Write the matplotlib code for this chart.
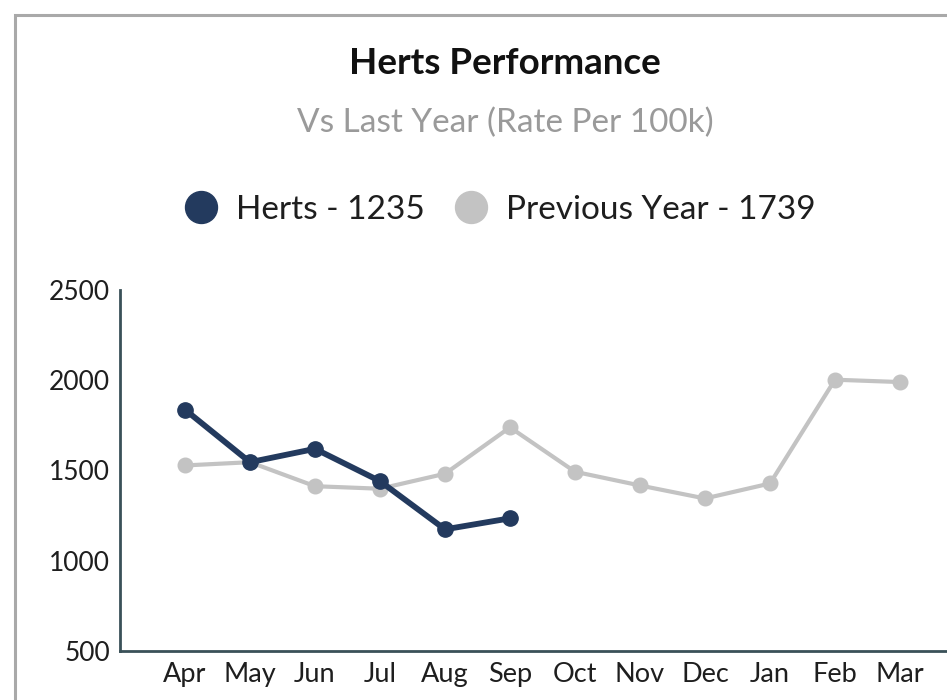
import matplotlib
matplotlib.use("Agg")
import matplotlib.pyplot as plt
from matplotlib.lines import Line2D
from matplotlib.patches import Rectangle

plt.rcParams['font.family'] = ['Lato', 'DejaVu Sans']

months = ["Apr", "May", "Jun", "Jul", "Aug", "Sep", "Oct", "Nov", "Dec", "Jan", "Feb", "Mar"]
herts = [1837, 1546, 1620, 1441, 1174, 1235]
previous = [1528, 1546, 1413, 1399, 1482, 1739, 1493, 1417, 1345, 1428, 2003, 1990]
yticks = [500, 1000, 1500, 2000, 2500]

title = "Herts Performance"
subtitle = "Vs Last Year (Rate Per 100k)"
herts_label = "Herts - 1235"
prev_label = "Previous Year - 1739"

navy = "#233a5e"
grey = "#c3c3c3"
spine_col = "#3a5158"

W, H = 947, 700
fig = plt.figure(figsize=(W / 100, H / 100), dpi=100)
fig.patch.set_facecolor("white")

# outer card border (cropped at right and bottom)
fig.patches.append(Rectangle((15 / W, -0.1), 1.2, 685 / H + 0.1, transform=fig.transFigure,
                             fill=False, edgecolor="#a9a9a9", lw=2.2, zorder=0))

ax_left = 120 / W
ax_bottom = (H - 651) / H
ax_h = (651 - 290) / H
ax_w = 65 * 13 / W
ax = fig.add_axes([ax_left, ax_bottom, ax_w, ax_h])

x_prev = list(range(len(previous)))
x_herts = list(range(len(herts)))
ax.plot(x_prev, previous, color=grey, lw=3.0, marker="o", ms=10.5, zorder=2,
        solid_capstyle="round")
ax.plot(x_herts, herts, color=navy, lw=4.2, marker="o", ms=11, zorder=3,
        solid_capstyle="round")

ax.set_xlim(-1, 12)
ax.set_ylim(500, 2500)
ax.set_yticks(yticks)
ax.set_yticklabels([str(v) for v in yticks], fontsize=19, color="#1e1e1e")
ax.set_xticks(range(len(months)))
ax.set_xticklabels(months, fontsize=19.5, color="#1e1e1e")
ax.tick_params(length=0)
ax.tick_params(axis="x", pad=8)
ax.tick_params(axis="y", pad=7)
for s in ["top", "right"]:
    ax.spines[s].set_visible(False)
for s in ["left", "bottom"]:
    ax.spines[s].set_color(spine_col)
    ax.spines[s].set_linewidth(2)
ax.set_facecolor("none")

fig.text(505 / W, 1 - 63 / H, title, ha="center", va="center", fontsize=26.5,
         fontweight="bold", color="#111111")
fig.text(505 / W, 1 - 123 / H, subtitle, ha="center", va="center", fontsize=24,
         color="#9a9a9a")

handles = [Line2D([], [], ls="none", marker="o", ms=23, color=navy),
           Line2D([], [], ls="none", marker="o", ms=23, color=grey)]
fig.legend(handles, [herts_label, prev_label], loc="center", ncol=2,
           bbox_to_anchor=(500 / W, 1 - 210 / H), frameon=False, fontsize=24,
           handletextpad=0.55, columnspacing=0.9, labelcolor="#1e1e1e",
           handlelength=1.0)

fig.savefig("out.png", dpi=100)
